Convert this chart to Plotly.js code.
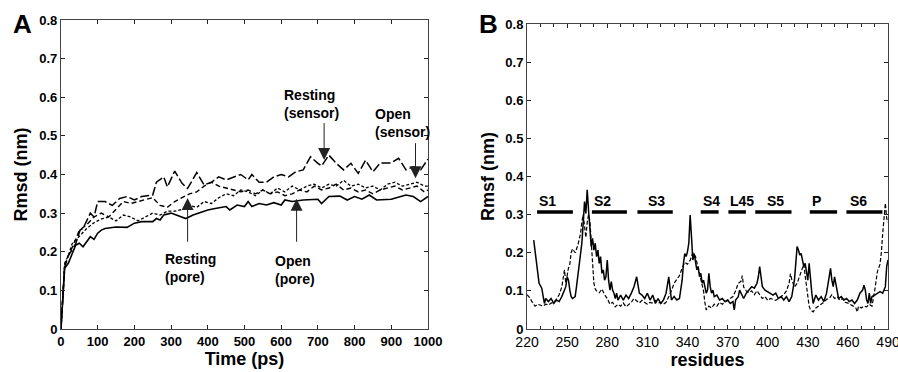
<!DOCTYPE html>
<html>
<head>
<meta charset="utf-8">
<script src="https://cdn.plot.ly/plotly-3.0.1.min.js"></script>
<style>html,body{margin:0;padding:0;background:#fff;}#chart{width:898px;height:372px;}</style>
</head>
<body>
<div id="chart"></div>
<script>
// ---------- Panel A: Rmsd vs time ----------
const openPoreT = [0,10,20,30,40,50,60,70,80,90,100,110,120,150,180,200,220,250,260,270,280,300,320,340,360,400,420,450,460,480,500,510,520,540,560,580,600,610,630,660,700,710,730,760,780,800,820,840,860,900,940,960,980,1000];
const openPoreV = [0,0.157,0.17,0.196,0.217,0.222,0.213,0.226,0.239,0.232,0.248,0.256,0.26,0.264,0.263,0.274,0.278,0.278,0.286,0.282,0.295,0.3,0.292,0.286,0.295,0.308,0.312,0.317,0.308,0.321,0.317,0.33,0.317,0.325,0.321,0.327,0.321,0.334,0.33,0.334,0.336,0.325,0.343,0.344,0.334,0.343,0.336,0.347,0.334,0.336,0.347,0.343,0.33,0.343];

const restPoreT = [0,10,20,30,50,70,90,110,130,150,170,190,210,230,250,270,290,310,330,350,370,390,410,430,450,470,490,510,530,550,570,590,610,630,650,670,690,710,730,750,770,790,810,830,850,870,890,910,930,950,970,990,1000];
const restPoreV = [0,0.165,0.19,0.21,0.255,0.27,0.29,0.3,0.29,0.31,0.33,0.325,0.33,0.335,0.34,0.32,0.315,0.33,0.34,0.35,0.355,0.37,0.38,0.37,0.365,0.36,0.355,0.36,0.35,0.36,0.35,0.355,0.345,0.35,0.36,0.355,0.37,0.36,0.365,0.375,0.36,0.365,0.355,0.36,0.35,0.36,0.365,0.37,0.36,0.365,0.37,0.355,0.36];

const openSensT = [0,10,20,30,50,70,90,110,130,150,170,190,210,230,250,270,290,310,330,350,370,390,410,430,450,470,490,510,530,550,570,590,610,630,650,670,690,710,730,750,770,790,810,830,850,870,890,910,930,950,970,990,1000];
const openSensV = [0,0.17,0.19,0.22,0.24,0.26,0.275,0.285,0.29,0.28,0.295,0.29,0.28,0.29,0.3,0.295,0.305,0.305,0.31,0.32,0.315,0.33,0.325,0.34,0.35,0.345,0.36,0.355,0.345,0.36,0.35,0.365,0.355,0.37,0.36,0.37,0.375,0.365,0.375,0.37,0.385,0.37,0.375,0.365,0.37,0.36,0.375,0.38,0.37,0.375,0.38,0.37,0.37];

const restSensT = [0,10,20,40,52,60,80,90,100,120,140,160,180,200,220,250,260,280,290,310,330,345,370,390,410,430,450,470,490,510,520,540,560,580,600,620,640,660,680,700,710,730,750,770,790,810,830,850,870,900,920,940,960,980,1000];
const restSensV = [0,0.16,0.19,0.22,0.256,0.26,0.3,0.29,0.33,0.33,0.32,0.338,0.343,0.334,0.343,0.347,0.38,0.394,0.368,0.409,0.377,0.364,0.405,0.373,0.38,0.394,0.386,0.394,0.4,0.386,0.4,0.38,0.38,0.394,0.4,0.394,0.407,0.412,0.446,0.429,0.422,0.45,0.429,0.412,0.429,0.403,0.437,0.407,0.43,0.43,0.442,0.412,0.42,0.412,0.44];

// arrow labels panel A
const aLabels = ["Resting<br>(pore)", "Open<br>(pore)", "Resting<br>(sensor)", "Open<br>(sensor)"];
const aLabelX = [278, 577, 602, 850];
const aLabelY = [0.159, 0.153, 0.5825, 0.5346];
const aArrowX = [345, 642, 717, 966];
const aArrowTip = [0.339, 0.337, 0.4375, 0.39];
const aArrowTail = [0.222, 0.222, 0.537, 0.485];

// ---------- Panel B: Rmsf vs residues ----------
const solidR = [225,227,229,231,232,233,234,236,238,240,242,244,246,247,249,250,251,252,253,254,256,257,258,259,260,261,262,263,264,265,266,267,268,269,270,271,272,273,274,275,276,277,278,279,280,281,282,283,284,285,286,287,288,290,292,294,296,298,300,302,303,304,306,308,310,312,314,316,318,320,322,324,326,327,328,330,332,334,336,337,338,339,340,341,342,343,344,345,346,347,348,349,350,351,352,353,354,355,356,357,358,359,360,362,364,366,368,370,372,374,375,376,378,379,380,382,384,386,388,390,392,393,394,395,396,398,400,402,404,406,408,410,412,414,416,418,419,420,421,422,423,424,425,426,427,428,429,430,431,432,433,434,435,436,438,440,442,444,446,447,448,449,450,451,452,453,455,457,459,461,463,465,467,469,471,472,473,474,475,476,477,478,480,482,484,486,487,488,489,490];
const solidV = [0.233,0.18,0.12,0.107,0.085,0.067,0.08,0.072,0.08,0.067,0.076,0.072,0.085,0.094,0.111,0.137,0.128,0.102,0.085,0.08,0.085,0.111,0.137,0.172,0.194,0.225,0.277,0.334,0.303,0.365,0.312,0.26,0.216,0.238,0.207,0.225,0.19,0.207,0.172,0.19,0.146,0.155,0.128,0.137,0.181,0.128,0.102,0.124,0.102,0.094,0.08,0.094,0.076,0.089,0.076,0.089,0.08,0.094,0.111,0.137,0.111,0.094,0.089,0.08,0.094,0.076,0.089,0.067,0.08,0.067,0.076,0.094,0.137,0.102,0.076,0.085,0.076,0.08,0.128,0.172,0.198,0.19,0.203,0.225,0.299,0.242,0.181,0.198,0.172,0.155,0.164,0.137,0.146,0.12,0.128,0.111,0.094,0.102,0.146,0.111,0.094,0.102,0.085,0.089,0.076,0.08,0.072,0.076,0.067,0.072,0.05,0.076,0.085,0.102,0.094,0.08,0.094,0.102,0.111,0.107,0.12,0.137,0.164,0.137,0.111,0.102,0.098,0.094,0.089,0.094,0.08,0.085,0.076,0.085,0.072,0.085,0.102,0.128,0.172,0.216,0.207,0.194,0.198,0.181,0.164,0.172,0.146,0.128,0.172,0.128,0.094,0.067,0.076,0.089,0.076,0.085,0.072,0.094,0.137,0.159,0.128,0.111,0.137,0.12,0.094,0.08,0.085,0.076,0.08,0.072,0.076,0.067,0.076,0.094,0.102,0.115,0.102,0.076,0.067,0.094,0.067,0.085,0.089,0.094,0.098,0.094,0.102,0.111,0.164,0.181];

const dashR = [220,222,224,226,228,230,232,234,236,238,240,242,244,246,247,248,249,250,251,252,253,254,256,258,260,261,262,263,264,265,266,267,268,269,270,271,272,274,276,278,280,282,284,286,288,290,292,294,296,298,300,302,304,306,308,310,312,314,316,318,320,322,324,326,328,330,332,334,336,338,340,342,344,346,348,350,352,353,354,356,358,360,362,364,366,368,370,372,374,376,378,380,381,382,384,386,388,390,392,394,396,398,400,402,404,406,408,410,412,414,416,417,418,420,422,424,426,427,428,430,431,432,434,436,438,440,442,444,446,448,450,452,454,456,458,460,462,464,466,467,468,470,472,474,476,478,480,482,484,485,486,487,488,489,490];
const dashV = [0.09,0.082,0.07,0.06,0.065,0.062,0.06,0.065,0.063,0.068,0.07,0.078,0.09,0.11,0.14,0.155,0.12,0.145,0.16,0.17,0.2,0.21,0.2,0.22,0.25,0.28,0.3,0.27,0.24,0.28,0.3,0.285,0.23,0.17,0.12,0.105,0.1,0.095,0.105,0.09,0.08,0.065,0.07,0.058,0.065,0.06,0.068,0.058,0.065,0.07,0.08,0.075,0.068,0.075,0.07,0.065,0.07,0.068,0.075,0.068,0.07,0.065,0.07,0.085,0.1,0.12,0.13,0.14,0.16,0.175,0.17,0.18,0.2,0.19,0.16,0.13,0.1,0.07,0.05,0.06,0.055,0.065,0.06,0.07,0.065,0.07,0.075,0.08,0.085,0.1,0.12,0.125,0.14,0.11,0.1,0.095,0.1,0.09,0.1,0.09,0.08,0.085,0.075,0.08,0.078,0.075,0.08,0.085,0.09,0.1,0.12,0.145,0.13,0.11,0.12,0.14,0.16,0.17,0.14,0.09,0.06,0.05,0.045,0.055,0.06,0.065,0.07,0.078,0.08,0.09,0.08,0.085,0.075,0.08,0.07,0.068,0.065,0.06,0.055,0.045,0.06,0.055,0.06,0.058,0.065,0.06,0.1,0.15,0.17,0.2,0.25,0.3,0.33,0.29,0.28];

// segment bars panel B
const segNames = ["S1","S2","S3","S4","L45","S5","P","S6"];
const segStart = [227.5,268.5,302.6,349.9,370.6,390.7,431.5,458.9];
const segEnd   = [254.3,294.7,329.0,363.3,383.7,417.8,451.9,485.8];
const segLabelX = [235.4,276.7,317,358,380.5,406,436.5,467.6];
const segLevel = 0.307;
const segLabelLevel = 0.336;

// ---------- build ----------
const FONT = "Liberation Sans, Arial, Helvetica, sans-serif";
const traces = [
  {x: openPoreT, y: openPoreV, mode:'lines', line:{color:'#000', width:1.6}, xaxis:'x', yaxis:'y', name:'Open (pore)'},
  {x: restPoreT, y: restPoreV, mode:'lines', line:{color:'#000', width:1.4, dash:'5px,3px'}, xaxis:'x', yaxis:'y', name:'Resting (pore)'},
  {x: openSensT, y: openSensV, mode:'lines', line:{color:'#000', width:1.3, dash:'3px,2px'}, xaxis:'x', yaxis:'y', name:'Open (sensor)'},
  {x: restSensT, y: restSensV, mode:'lines', line:{color:'#000', width:1.5, dash:'9px,3px'}, xaxis:'x', yaxis:'y', name:'Resting (sensor)'},
  {x: dashR, y: dashV, mode:'lines', line:{color:'#000', width:1.2, dash:'4px,2px'}, xaxis:'x2', yaxis:'y2', name:'dashed'},
  {x: solidR, y: solidV, mode:'lines', line:{color:'#000', width:1.5}, xaxis:'x2', yaxis:'y2', name:'solid'}
];
for (let i = 0; i < segNames.length; i++) {
  traces.push({x:[segStart[i], segEnd[i]], y:[segLevel, segLevel], mode:'lines',
    line:{color:'#000', width:3.5}, xaxis:'x2', yaxis:'y2', name:segNames[i], hoverinfo:'skip'});
}

const annotations = [];
for (let i = 0; i < aLabels.length; i++) {
  annotations.push({x:aLabelX[i], y:aLabelY[i], xref:'x', yref:'y', text:aLabels[i], showarrow:false,
    xanchor:'left', yanchor:'middle', align:'left', font:{family:FONT, size:14, color:'#000', weight:'bold'}});
  annotations.push({x:aArrowX[i], y:aArrowTip[i], xref:'x', yref:'y', ax:aArrowX[i], ay:aArrowTail[i],
    axref:'x', ayref:'y', text:'', showarrow:true, arrowhead:2, arrowsize:2.4, arrowwidth:1, arrowcolor:'#222', standoff:0});
}
for (let i = 0; i < segNames.length; i++) {
  annotations.push({x:segLabelX[i], y:segLabelLevel, xref:'x2', yref:'y2', text:segNames[i], showarrow:false,
    font:{family:FONT, size:14, color:'#000', weight:'bold'}});
}
annotations.push({x:0.012, y:0.935, xref:'paper', yref:'paper', text:'A', showarrow:false, xanchor:'left', yanchor:'middle',
  font:{family:FONT, size:26, color:'#000', weight:'bold'}});
annotations.push({x:0.531, y:0.935, xref:'paper', yref:'paper', text:'B', showarrow:false, xanchor:'left', yanchor:'middle',
  font:{family:FONT, size:26, color:'#000', weight:'bold'}});

const axCommon = {showline:true, mirror:'ticks', linecolor:'#444', linewidth:1, ticks:'inside', ticklen:4,
  tickcolor:'#222', showgrid:false, zeroline:false};
const layout = {
  width:898, height:372, margin:{l:0, r:0, t:0, b:0}, paper_bgcolor:'#fff', plot_bgcolor:'#fff',
  showlegend:false, font:{family:FONT, color:'#000'},
  xaxis: Object.assign({}, axCommon, {domain:[0.0679,0.4766], range:[0,1000], dtick:100, tick0:0,
    tickfont:{family:FONT, size:13, weight:'bold'}, anchor:'y', ticklabeloverflow:'allow',
    title:{text:'Time (ps)', font:{family:FONT, size:18, weight:'bold'}, standoff:4}}),
  yaxis: Object.assign({}, axCommon, {domain:[0.1156,0.9462], range:[0,0.8], dtick:0.1, tick0:0,
    tickfont:{family:FONT, size:13, weight:'bold'}, anchor:'x',
    title:{text:'Rmsd (nm)', font:{family:FONT, size:18, weight:'bold'}, standoff:6}}),
  xaxis2: Object.assign({}, axCommon, {domain:[0.5869,0.9889], range:[220,490], dtick:30, tick0:220,
    tickfont:{family:FONT, size:14}, anchor:'y2', ticklabeloverflow:'allow',
    minor:{dtick:10, tick0:220, ticks:'inside', ticklen:3, tickcolor:'#222'},
    title:{text:'residues', font:{family:FONT, size:18, weight:'bold'}, standoff:4}}),
  yaxis2: Object.assign({}, axCommon, {domain:[0.1156,0.9355], range:[0,0.8], dtick:0.1, tick0:0,
    tickfont:{family:FONT, size:13, weight:'bold'}, anchor:'x2',
    title:{text:'Rmsf (nm)', font:{family:FONT, size:18, weight:'bold'}, standoff:6}}),
  annotations: annotations
};
Plotly.newPlot('chart', traces, layout, {staticPlot:true, displayModeBar:false});
</script>
</body>
</html>
